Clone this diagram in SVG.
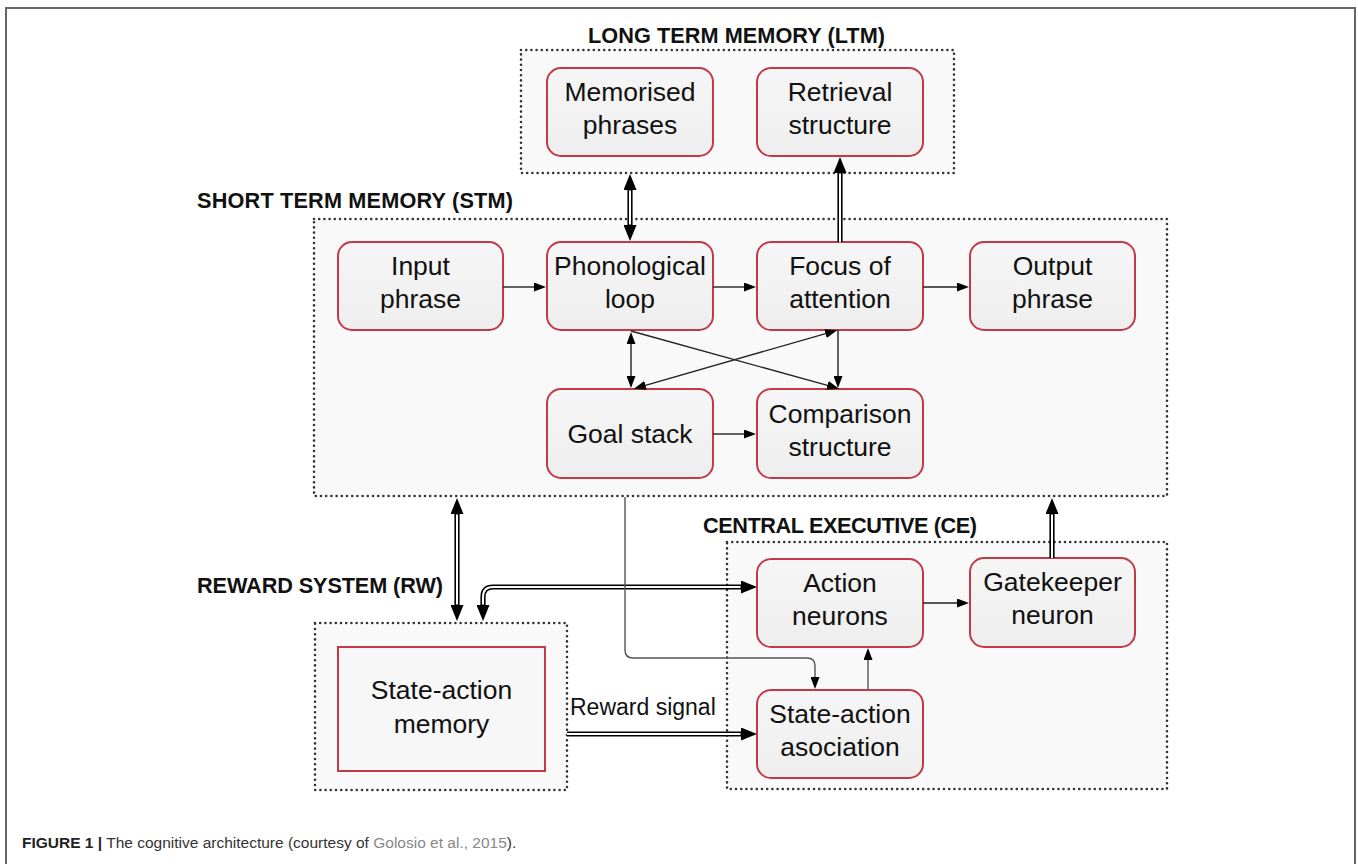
<svg xmlns="http://www.w3.org/2000/svg" width="1358" height="864" viewBox="0 0 1358 864">
<style>
.frame{fill:#fff;stroke:#666;stroke-width:2}
.cont{fill:#f9f9f9;stroke:#333;stroke-width:2.6;stroke-dasharray:0 5.2;stroke-linecap:round}
.box{fill:url(#g);stroke:#c23a48;stroke-width:2}
.t{font-family:"Liberation Sans",Arial,sans-serif;font-size:26.5px;fill:#111;text-anchor:middle}
.h{font-family:"Liberation Sans",Arial,sans-serif;font-size:21.7px;font-weight:bold;fill:#111}
.lbl{font-family:"Liberation Sans",Arial,sans-serif;font-size:23px;fill:#111}
.cap{font-family:"Liberation Sans",Arial,sans-serif;font-size:15.5px;fill:#333}
.dbo{fill:none;stroke:#000;stroke-width:5.2}
.dbi{fill:none;stroke:#fff;stroke-width:2}
.thin{fill:none;stroke:#222;stroke-width:1.4}
.thing{fill:none;stroke:#555;stroke-width:1.4}
</style>
<defs>
<linearGradient id="g" x1="0" y1="0" x2="0" y2="1">
<stop offset="0" stop-color="#f6f6f6"/>
<stop offset="1" stop-color="#eeeeee"/>
</linearGradient>
<marker id="ab" viewBox="0 0 16 13" refX="1" refY="6.5" markerWidth="16" markerHeight="13" markerUnits="userSpaceOnUse" orient="auto-start-reverse">
<path d="M0,0 L16,6.5 L0,13 z" fill="#000"/>
</marker>
<marker id="as" viewBox="0 0 12 9" refX="1" refY="4.5" markerWidth="12" markerHeight="9" markerUnits="userSpaceOnUse" orient="auto-start-reverse">
<path d="M0,0 L12,4.5 L0,9 z" fill="#000"/>
</marker>
</defs>
<rect class="frame" x="6" y="8" width="1349" height="870"/>

<g id="ltm">
<rect class="cont" x="521" y="50" width="433" height="123"/>
<text class="h" x="588" y="43" textLength="297">LONG TERM MEMORY (LTM)</text>
</g>
<g id="stm">
<rect class="cont" x="314" y="219" width="853" height="277"/>
<text class="h" x="197" y="208" textLength="316">SHORT TERM MEMORY (STM)</text>
</g>
<g id="ce">
<rect class="cont" x="727" y="542" width="440" height="247"/>
<text class="h" x="703" y="533" textLength="274">CENTRAL EXECUTIVE (CE)</text>
</g>
<g id="rw">
<rect class="cont" x="315" y="623" width="252" height="167"/>
<text class="h" x="197" y="593" textLength="246">REWARD SYSTEM (RW)</text>
</g>

<g id="memorised">
<rect class="box" x="547" y="68" width="166" height="88" rx="14"/>
<text class="t" x="630" y="101">Memorised</text>
<text class="t" x="630" y="134">phrases</text>
</g>
<g id="retrieval">
<rect class="box" x="757" y="68" width="166" height="88" rx="14"/>
<text class="t" x="840" y="101">Retrieval</text>
<text class="t" x="840" y="134">structure</text>
</g>
<g id="input">
<rect class="box" x="338" y="242" width="165" height="88" rx="14"/>
<text class="t" x="420.5" y="275">Input</text>
<text class="t" x="420.5" y="308">phrase</text>
</g>
<g id="phonological">
<rect class="box" x="547" y="242" width="166" height="88" rx="14"/>
<text class="t" x="630" y="275">Phonological</text>
<text class="t" x="630" y="308">loop</text>
</g>
<g id="focus">
<rect class="box" x="757" y="242" width="166" height="88" rx="14"/>
<text class="t" x="840" y="275">Focus of</text>
<text class="t" x="840" y="308">attention</text>
</g>
<g id="output">
<rect class="box" x="970" y="242" width="165" height="88" rx="14"/>
<text class="t" x="1052.5" y="275">Output</text>
<text class="t" x="1052.5" y="308">phrase</text>
</g>
<g id="goal">
<rect class="box" x="547" y="389" width="166" height="89" rx="14"/>
<text class="t" x="630" y="443">Goal stack</text>
</g>
<g id="comparison">
<rect class="box" x="757" y="389" width="166" height="89" rx="14"/>
<text class="t" x="840" y="423">Comparison</text>
<text class="t" x="840" y="456">structure</text>
</g>
<g id="action">
<rect class="box" x="757" y="559" width="166" height="88" rx="14"/>
<text class="t" x="840" y="592">Action</text>
<text class="t" x="840" y="625">neurons</text>
</g>
<g id="gatekeeper">
<rect class="box" x="970" y="558" width="165" height="89" rx="14"/>
<text class="t" x="1052.5" y="591">Gatekeeper</text>
<text class="t" x="1052.5" y="624">neuron</text>
</g>
<g id="association">
<rect class="box" x="757" y="690" width="166" height="88" rx="14"/>
<text class="t" x="840" y="723">State-action</text>
<text class="t" x="840" y="756">asociation</text>
</g>
<g id="samemory">
<rect x="338" y="647" width="207" height="124" fill="#f7f7f7" stroke="#c23a48" stroke-width="2"/>
<text class="t" x="441.5" y="699">State-action</text>
<text class="t" x="441.5" y="733">memory</text>
</g>

<g id="connectors">
<path class="dbo" d="M630,189 L630,226" marker-start="url(#ab)" marker-end="url(#ab)"/>
<path class="dbi" d="M630,190.5 L630,224.5"/>
<path class="dbo" d="M840,242 L840,172" marker-end="url(#ab)"/>
<path class="dbi" d="M840,242 L840,173.5"/>
<path class="dbo" d="M457,513 L457,606" marker-start="url(#ab)" marker-end="url(#ab)"/>
<path class="dbi" d="M457,514.5 L457,604.5"/>
<path class="dbo" d="M742,587 L493,587 Q483,587 483,597 L483,606" marker-start="url(#ab)" marker-end="url(#ab)"/>
<path class="dbi" d="M740.5,587 L493,587 Q483,587 483,597 L483,604.5"/>
<path class="dbo" d="M567,734 L742,734" marker-end="url(#ab)"/>
<path class="dbi" d="M567,734 L740.5,734"/>
<path class="dbo" d="M1052,558 L1052,513" marker-end="url(#ab)"/>
<path class="dbi" d="M1052,558 L1052,514.5"/>
<path class="thin" d="M503,287 L535,287" marker-end="url(#as)"/>
<path class="thin" d="M713,287 L745,287" marker-end="url(#as)"/>
<path class="thin" d="M923,287 L958,287" marker-end="url(#as)"/>
<path class="thin" d="M713,434 L745,434" marker-end="url(#as)"/>
<path class="thin" d="M631,343 L631,377" marker-start="url(#as)" marker-end="url(#as)"/>
<path class="thin" d="M631,331 L828.4,385.7" marker-end="url(#as)"/>
<path class="thin" d="M644.5,385.7 L826.5,333.3" marker-start="url(#as)" marker-end="url(#as)"/>
<path class="thin" d="M838,330 L838,377" marker-end="url(#as)"/>
<path class="thin" d="M923,603 L958,603" marker-end="url(#as)"/>
<path class="thing" d="M868,690 L868,659" marker-end="url(#as)"/>
<path class="thing" d="M625,497 L625,650 Q625,658 633,658 L807,658 Q815,658 815,666 L815,678" marker-end="url(#as)"/>
<text class="lbl" x="570" y="715">Reward signal</text>
</g>

<text class="cap" x="22" y="848"><tspan font-weight="bold" fill="#222">FIGURE 1 |</tspan> The cognitive architecture (courtesy of <tspan fill="#888">Golosio et al., 2015</tspan>).</text>
</svg>
